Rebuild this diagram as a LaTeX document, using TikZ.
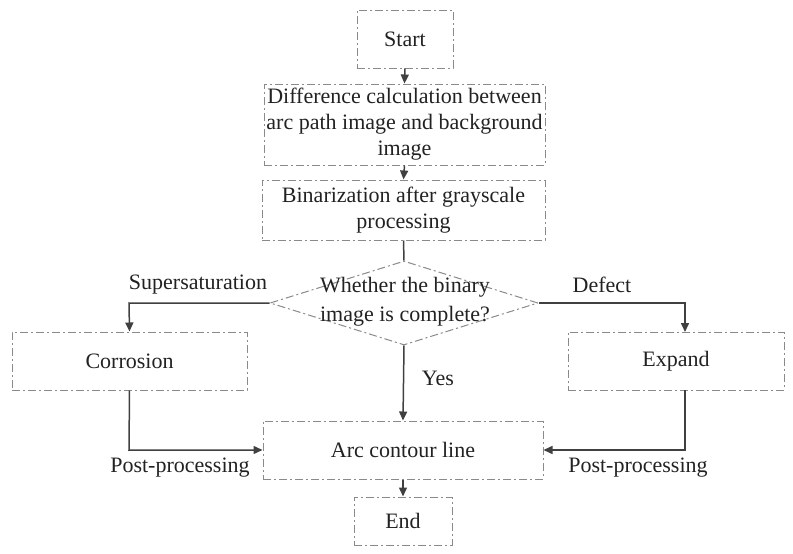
\documentclass[tikz,border=0pt]{standalone}
\usepackage{fontspec}
\setmainfont{Liberation Serif}
\usetikzlibrary{arrows.meta,shapes.geometric}
\definecolor{boxline}{HTML}{8A8A8A}
\definecolor{arrline}{HTML}{404040}
\definecolor{txt}{HTML}{222222}
\begin{document}
\begin{tikzpicture}[x=1pt,y=-1pt,
  font=\fontsize{22}{26}\selectfont, text=txt,
  stepbox/.style={draw=boxline, line width=1pt, dash pattern=on 8pt off 3pt on 2pt off 3pt, align=center, inner sep=0pt},
  arr/.style={draw=arrline, line width=1.5pt, -{Triangle[length=9pt,width=8pt]}},
  lbl/.style={inner sep=1pt}]
\useasboundingbox (0,0) rectangle (793,554);
\node[stepbox, minimum width=96pt, minimum height=58pt] (start) at (405,39) {Start};
\node[stepbox, minimum width=281pt, minimum height=81pt] (diff) at (404.5,124.5) {Difference calculation between\\arc path image and background\\image};
\node[stepbox, minimum width=283pt, minimum height=60pt] (bin) at (403.5,210) {Binarization after grayscale\\processing};
\node[diamond, draw=boxline, line width=1pt, dash pattern=on 8pt off 3pt on 2pt off 3pt, inner sep=0pt, minimum width=268pt, minimum height=84pt] (dec) at (404,303) {};
\node[align=center, font=\fontsize{22}{29}\selectfont] (dectext) at (405,302) {Whether the binary\\image is complete?};
\node[stepbox, minimum width=235pt, minimum height=58pt] (corr) at (129.5,361) {Corrosion};
\node[stepbox, minimum width=216pt, minimum height=58pt] (exp) at (676,361) {Expand};
\node[stepbox, minimum width=280pt, minimum height=58pt] (arc) at (403,450) {Arc contour line};
\node[stepbox, minimum width=98pt, minimum height=48pt] (end) at (403,521) {End};

\coordinate (cl) at (129,303);
\coordinate (cr) at (685,303);
\coordinate (bl) at (129,450);
\coordinate (br) at (685,450);

\draw[arr] (start.south) -- (diff.north);
\draw[arr] (diff.south) -- (bin.north);
\draw[draw=arrline, line width=1.5pt] (bin.south) -- (dec.north);
\draw[arr] (dec.west) -- (cl) -- (corr.north);
\draw[arr] (dec.east) -- (cr) -- (685,332);
\draw[arr] (dec.south) -- (arc.north);
\draw[arr] (corr.south) -- (bl) -- (arc.west);
\draw[arr] (685,390) -- (br) -- (arc.east);
\draw[arr] (arc.south) -- (end.north);

\node[lbl] (sup) at (198,285) {Supersaturation};
\node[lbl] (def) at (602,285) {Defect};
\node[lbl] (yes) at (438,378) {Yes};
\node[lbl] (ppl) at (180,468) {Post-processing};
\node[lbl] (ppr) at (638,468) {Post-processing};
\end{tikzpicture}
\end{document}
